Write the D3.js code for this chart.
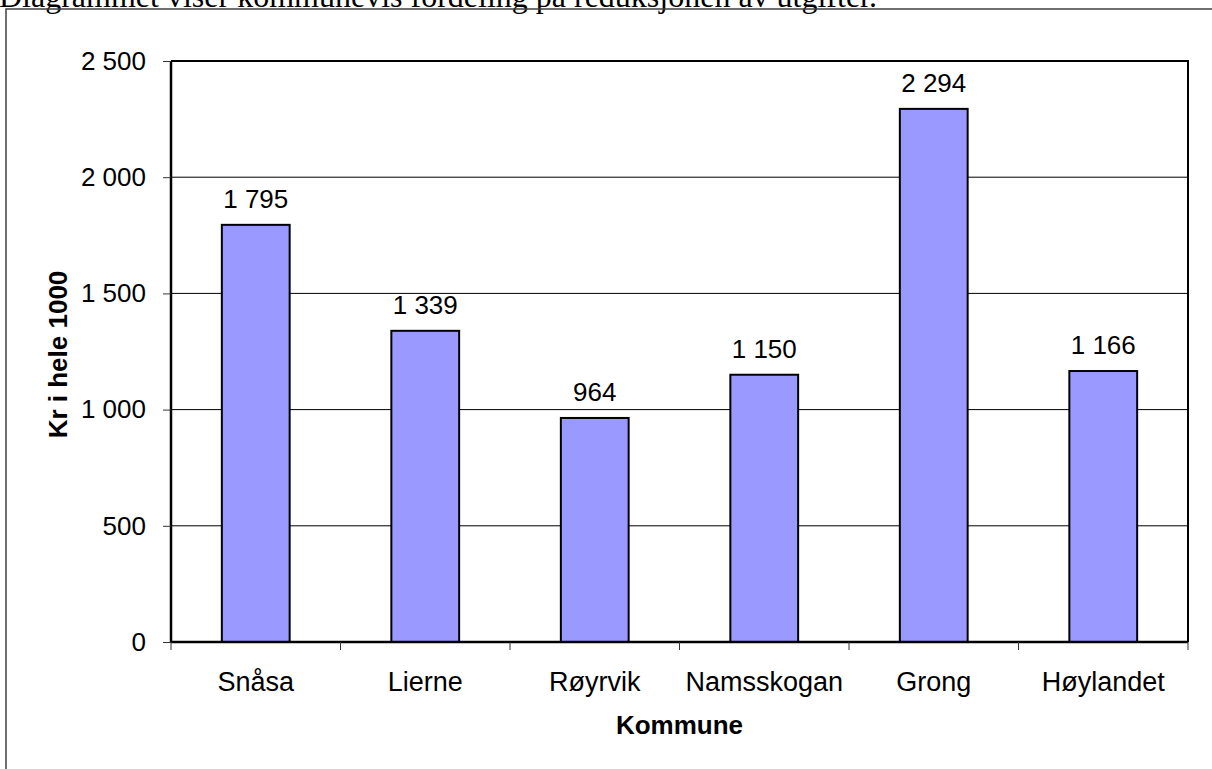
<!DOCTYPE html>
<html>
<head>
<meta charset="utf-8">
<script src="https://cdn.jsdelivr.net/npm/d3@7"></script>
<style>
  body { margin: 0; background: #fff; overflow: hidden; }
  svg { display: block; }
  .tick text { font-family: "Liberation Sans", Arial, sans-serif; }
</style>
</head>
<body>
<div id="d3-container"></div>
<script>
const kommuner = ["Snåsa", "Lierne", "Røyrvik", "Namsskogan", "Grong", "Høylandet"];
const verdier = [1795, 1339, 964, 1150, 2294, 1166];
const yTicks = [0, 500, 1000, 1500, 2000, 2500];

const width = 1212,
    height = 769,
    margin = { top: 61, bottom: 127, left: 171, right: 24 };

const nb = d3.formatLocale({ decimal: ",", thousands: " ", grouping: [3], currency: ["kr ", ""] });
const fmt = nb.format(",d");

const svg = d3
    .select("#d3-container")
    .append("svg")
    .attr("width", width)
    .attr("height", height);

// caption text cut off at the top of the page
svg.append("text")
    .attr("x", -1)
    .attr("y", 7)
    .attr("font-family", "Liberation Serif, Times New Roman, serif")
    .attr("font-size", 32)
    .text("Diagrammet viser kommunevis fordeling på reduksjonen av utgifter.");

// outer frame
svg.append("rect")
    .attr("x", 6)
    .attr("y", 9)
    .attr("width", width)
    .attr("height", height)
    .attr("fill", "none")
    .attr("stroke", "#404040")
    .attr("stroke-width", 1.5);

const xScale = d3
    .scaleBand()
    .domain(kommuner)
    .range([margin.left, width - margin.right])
    .paddingInner(0.6)
    .paddingOuter(0.3);

const yScale = d3
    .scaleLinear()
    .domain([0, 2500])
    .range([height - margin.bottom, margin.top]);

// gridlines
svg.append("g")
    .selectAll("line")
    .data(yTicks.slice(1))
    .join("line")
    .attr("x1", margin.left)
    .attr("x2", width - margin.right)
    .attr("y1", d => yScale(d))
    .attr("y2", d => yScale(d))
    .attr("stroke", "#000")
    .attr("stroke-width", 1);

// bars
svg.append("g")
    .selectAll("rect")
    .data(verdier)
    .join("rect")
    .attr("x", (d, i) => xScale(kommuner[i]))
    .attr("y", d => yScale(d))
    .attr("width", xScale.bandwidth())
    .attr("height", d => yScale(0) - yScale(d))
    .attr("fill", "#9999FF")
    .attr("stroke", "#000")
    .attr("stroke-width", 2);

// value labels
svg.append("g")
    .selectAll("text")
    .data(verdier)
    .join("text")
    .attr("x", (d, i) => xScale(kommuner[i]) + xScale.bandwidth() / 2)
    .attr("y", d => yScale(d) - 17)
    .attr("text-anchor", "middle")
    .attr("font-family", "Liberation Sans, Arial, sans-serif")
    .attr("font-size", 26)
    .text(d => fmt(d));

// plot border: top and right
svg.append("path")
    .attr("d", `M${margin.left},${margin.top}H${width - margin.right}V${height - margin.bottom}`)
    .attr("fill", "none")
    .attr("stroke", "#000")
    .attr("stroke-width", 2);

// y axis
const yAxis = d3.axisLeft(yScale).tickValues(yTicks).tickSize(8).tickPadding(17).tickFormat(fmt);
svg.append("g")
    .attr("transform", `translate(${margin.left},0)`)
    .call(yAxis)
    .call(g => g.select(".domain").attr("stroke-width", 2.5).attr("d", `M0,${margin.top}V${height - margin.bottom}`))
    .call(g => g.selectAll(".tick line").attr("stroke", "#333"))
    .call(g => g.selectAll(".tick text").attr("font-size", 26).attr("fill", "#000"));

// x axis: labels centred under bars, ticks at category boundaries
const xAxis = d3.axisBottom(xScale).tickSize(0).tickPadding(30);
svg.append("g")
    .attr("transform", `translate(0,${height - margin.bottom})`)
    .call(xAxis)
    .call(g => g.select(".domain").attr("stroke-width", 2.5).attr("d", `M${margin.left},0H${width - margin.right}`))
    .call(g => g.selectAll(".tick text").attr("font-size", 27).attr("fill", "#000"));

const boundaries = d3.range(kommuner.length + 1);
const bScale = d3.scaleLinear().domain([0, kommuner.length]).range([margin.left, width - margin.right]);
svg.append("g")
    .selectAll("line")
    .data(boundaries)
    .join("line")
    .attr("x1", d => bScale(d))
    .attr("x2", d => bScale(d))
    .attr("y1", height - margin.bottom)
    .attr("y2", height - margin.bottom + 8)
    .attr("stroke", "#333")
    .attr("stroke-width", 1);

// axis titles
svg.append("text")
    .attr("x", (margin.left + width - margin.right) / 2)
    .attr("y", 734)
    .attr("text-anchor", "middle")
    .attr("font-family", "Liberation Sans, Arial, sans-serif")
    .attr("font-weight", "bold")
    .attr("font-size", 26)
    .text("Kommune");

svg.append("text")
    .attr("transform", `translate(67,${(margin.top + height - margin.bottom) / 2 + 3}) rotate(-90)`)
    .attr("text-anchor", "middle")
    .attr("font-family", "Liberation Sans, Arial, sans-serif")
    .attr("font-weight", "bold")
    .attr("font-size", 26)
    .text("Kr i hele 1000");
</script>
</body>
</html>
